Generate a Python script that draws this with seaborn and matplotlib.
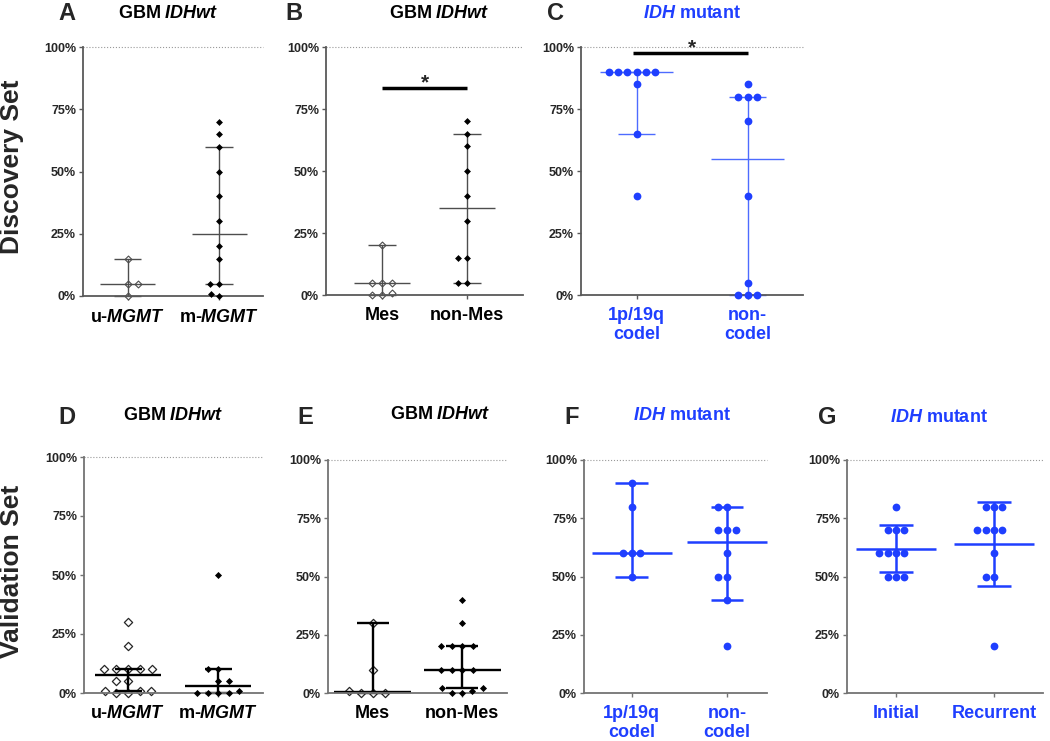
import matplotlib
matplotlib.use("Agg")
import matplotlib.pyplot as plt
import seaborn as sns

# --- values (% positive) ---
# A: discovery, GBM IDHwt by MGMT status
a_labels = ["u-$\\mathit{MGMT}$", "m-$\\mathit{MGMT}$"]
a_left = [15, 5, 5, 0]
a_right = [70, 65, 60, 50, 40, 30, 20, 15, 5, 5, 1, 0]
a_med, a_low, a_high = [5, 25], [0, 5], [15, 60]

# B: discovery, GBM IDHwt by subtype
b_labels = ["Mes", "non-Mes"]
b_left = [20, 5, 5, 5, 1, 0, 0]
b_right = [70, 65, 60, 50, 40, 30, 15, 15, 5, 5]
b_med, b_low, b_high = [5, 35], [0, 5], [20, 65]

# C: discovery, IDH mutant by 1p/19q
c_labels = ["1p/19q\ncodel", "non-\ncodel"]
c_left = [90, 90, 90, 90, 90, 90, 85, 65, 40]
c_right = [85, 80, 80, 80, 70, 40, 5, 0, 0, 0]
c_med, c_low, c_high = [90, 55], [65, 0], [90, 80]

# D: validation, GBM IDHwt by MGMT status
d_labels = ["u-$\\mathit{MGMT}$", "m-$\\mathit{MGMT}$"]
d_left = [30, 20, 10, 10, 10, 10, 10, 5, 5, 1, 1, 1, 0, 0]
d_right = [50, 10, 10, 5, 5, 1, 0, 0, 0, 0]
d_med, d_low, d_high = [7.5, 3], [1, 0], [10, 10]

# E: validation, GBM IDHwt by subtype
e_labels = ["Mes", "non-Mes"]
e_left = [30, 10, 1, 0, 0, 0]
e_right = [40, 30, 20, 20, 20, 20, 10, 10, 10, 10, 2, 2, 1, 0, 0]
e_med, e_low, e_high = [0.5, 10], [0, 2], [30, 20]

# F: validation, IDH mutant by 1p/19q
f_labels = ["1p/19q\ncodel", "non-\ncodel"]
f_left = [90, 80, 60, 60, 60, 50]
f_right = [80, 80, 70, 70, 70, 60, 50, 50, 40, 20]
f_med, f_low, f_high = [60, 65], [50, 40], [90, 80]

# G: validation, IDH mutant initial vs recurrent
g_labels = ["Initial", "Recurrent"]
g_left = [80, 70, 70, 70, 60, 60, 60, 60, 50, 50, 50]
g_right = [80, 80, 80, 70, 70, 70, 70, 60, 50, 50, 20]
g_med, g_low, g_high = [62, 64], [52, 46], [72, 82]

y_ticks = [0, 25, 50, 75, 100]

# --- style ---
sns.set_theme(style="ticks")
plt.rcParams["font.family"] = ["Liberation Sans", "DejaVu Sans"]
plt.rcParams["font.weight"] = "bold"
plt.rcParams["mathtext.fontset"] = "custom"
plt.rcParams["mathtext.it"] = "Liberation Sans:italic:bold"
plt.rcParams["mathtext.rm"] = "Liberation Sans:bold"
plt.rcParams["mathtext.bf"] = "Liberation Sans:bold"

BLUE = "#1f3fff"
W, H = 1050, 741
fig = plt.figure(figsize=(10.5, 7.41), dpi=100)

open_s = dict(marker="D", face="white", edge="0.3", lw=0.8, size=3.5, z=2)
fill_s = dict(marker="D", face="black", edge="black", lw=0, size=3.5, z=3)
open_b = dict(marker="D", face="white", edge="0.15", lw=0.9, size=4.2, z=2)
fill_b = dict(marker="D", face="black", edge="black", lw=0, size=3.6, z=3)
dot = dict(marker="o", face=BLUE, edge=BLUE, lw=0, size=5.6, z=3)

shrink = []  # swarm collections and the marker size to show once laid out


def box(l, t, r, b):
    return [l / W, 1 - b / H, (r - l) / W, (b - t) / H]


def panel(rect, xlim, left, right, med, low, high, labels, marks, spacing,
          line_c, line_w, med_w, cap_w, spine_c, text_c):
    ax = fig.add_axes(box(*rect))
    cats = ["g0", "g1"]
    for i, vals in enumerate([left, right]):
        mk = marks[i]
        before = list(ax.collections)
        sns.swarmplot(x=[cats[i]] * len(vals), y=vals, order=cats, ax=ax,
                      size=spacing, marker=mk["marker"], color=mk["face"],
                      edgecolor=mk["edge"], linewidth=mk["lw"], zorder=mk["z"],
                      clip_on=False)
        for coll in ax.collections:
            if coll not in before:
                shrink.append((coll, mk["size"]))
    for i in range(2):
        kw = dict(color=line_c, lw=line_w, zorder=2.5, clip_on=False)
        ax.hlines(med[i], i - med_w, i + med_w, **kw)
        ax.vlines(i, low[i], high[i], **kw)
        ax.hlines([low[i], high[i]], i - cap_w, i + cap_w, **kw)
    ax.axhline(100, ls=":", color="0.6", lw=0.8, clip_on=False)
    ax.set_xlim(*xlim)
    ax.set_ylim(0, 100)
    ax.set_xticks([0, 1], labels=labels)
    ax.set_yticks(y_ticks, labels=[f"{v}%" for v in y_ticks])
    ax.set_xlabel("")
    ax.set_ylabel("")
    for s in ["top", "right"]:
        ax.spines[s].set_visible(False)
    for s in ["left", "bottom"]:
        ax.spines[s].set_color(spine_c)
        ax.spines[s].set_linewidth(1.3)
    ax.tick_params(axis="both", direction="out", length=3, width=1, color=spine_c)
    ax.tick_params(axis="y", labelsize=9, pad=2)
    ax.tick_params(axis="x", labelsize=13, pad=6, labelcolor=text_c)
    for t in ax.get_xticklabels():
        t.set_linespacing(1.1)
    return ax


ax_a = panel((83, 47, 263, 296), (-0.49, 1.48), a_left, a_right, a_med, a_low, a_high,
             a_labels, [open_s, fill_s], 6.0, "0.3", 1.0, 0.3, 0.15, "0.35", "black")
ax_b = panel((326, 47, 523, 295), (-0.66, 1.66), b_left, b_right, b_med, b_low, b_high,
             b_labels, [open_s, fill_s], 6.0, "0.3", 1.0, 0.33, 0.17, "0.35", "black")
ax_c = panel((581, 47, 803, 295), (-0.5, 1.5), c_left, c_right, c_med, c_low, c_high,
             c_labels, [dot, dot], 6.3, "#4d6bff", 1.0, 0.33, 0.17, "0.35", BLUE)
ax_d = panel((84, 457, 263, 693), (-0.49, 1.5), d_left, d_right, d_med, d_low, d_high,
             d_labels, [open_b, fill_b], 7.2, "black", 1.7, 0.37, 0.15, "0.45", "black")
ax_e = panel((328, 460, 507, 693), (-0.5, 1.5), e_left, e_right, e_med, e_low, e_high,
             e_labels, [open_b, fill_b], 7.2, "black", 1.7, 0.43, 0.18, "0.45", "black")
ax_f = panel((584, 460, 767, 693), (-0.5, 1.42), f_left, f_right, f_med, f_low, f_high,
             f_labels, [dot, dot], 6.0, BLUE, 1.8, 0.42, 0.17, "0.45", BLUE)
ax_g = panel((847, 460, 1043, 693), (-0.5, 1.5), g_left, g_right, g_med, g_low, g_high,
             g_labels, [dot, dot], 5.7, BLUE, 1.8, 0.41, 0.17, "0.45", BLUE)

# significance bars
ax_b.plot([0, 1], [83.5, 83.5], color="black", lw=2.5, solid_capstyle="butt")
ax_b.text(0.5, 83.5, "*", ha="center", va="baseline", fontsize=15, fontweight="bold")
ax_c.plot([-0.03, 1], [97.6, 97.6], color="black", lw=2.5, solid_capstyle="butt", clip_on=False)
ax_c.text(0.5, 97.4, "*", ha="center", va="baseline", fontsize=15, fontweight="bold")

# panel letters and titles (pixel positions)
letters = [("A", 67, 14), ("B", 294, 14), ("C", 556, 14),
           ("D", 67, 417), ("E", 305, 417), ("F", 572, 417), ("G", 827, 417)]
for s, x, y in letters:
    fig.text(x / W, 1 - y / H, s, ha="center", va="center", fontsize=17, fontweight="bold")

gbm = "GBM $\\mathit{IDHwt}$"
idh = "$\\mathit{IDH}$ mutant"
titles = [(gbm, 168, 14, "black"), (gbm, 439, 14, "black"), (idh, 692, 14, BLUE),
          (gbm, 173, 416, "black"), (gbm, 440, 414, "black"), (idh, 682, 416, BLUE),
          (idh, 939, 417, BLUE)]
for s, x, y, c in titles:
    fig.text(x / W, 1 - y / H, s, ha="center", va="center", fontsize=13,
             fontweight="bold", color=c)

fig.text(12 / W, 1 - 167 / H, "Discovery Set", rotation=90, ha="center", va="center",
         fontsize=19, fontweight="bold")
fig.text(12 / W, 1 - 571 / H, "Validation Set", rotation=90, ha="center", va="center",
         fontsize=19, fontweight="bold")

# lay the swarms out with the wider spacing, then shrink the markers
fig.canvas.draw()
for coll, s in shrink:
    if "draw" in coll.__dict__:
        del coll.draw
    coll.set_sizes([s ** 2])

fig.savefig("out.png", dpi=100)
